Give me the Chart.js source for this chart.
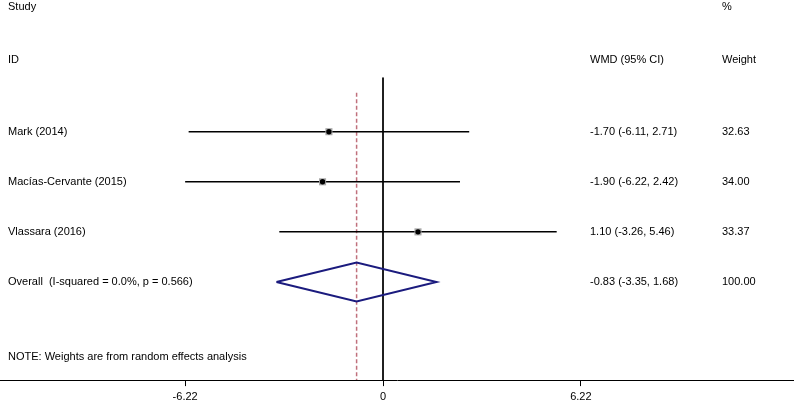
<!DOCTYPE html>
<html>
<head>
<meta charset="utf-8">
<script src="https://cdn.jsdelivr.net/npm/chart.js@4"></script>
<style>
  html, body { margin: 0; padding: 0; background: #fff; }
  #wrap { width: 794px; height: 408px; }
</style>
</head>
<body>
<div id="wrap"><canvas id="forest"></canvas></div>
<script>
// study data
const studies = ['Mark (2014)', 'Macías-Cervante (2015)', 'Vlassara (2016)'];
const wmd = [-1.70, -1.90, 1.10];
const lower = [-6.11, -6.22, -3.26];
const upper = [2.71, 2.42, 5.46];
const weights = ['32.63', '34.00', '33.37'];

// pooled estimate
const overallLabel = 'Overall  (I-squared = 0.0%, p = 0.566)';
const overall = [-0.83, -3.35, 1.68];
const overallWeight = '100.00';

const tickValues = [-6.22, 0, 6.22];
const tickLabels = ['-6.22', '0', '6.22'];

const fmt = v => v.toFixed(2);
const ciText = (e, l, u) => fmt(e) + ' (' + fmt(l) + ', ' + fmt(u) + ')';

const overallRow = studies.length + 1;
const yMin = -1.63, yMax = 5.96;

const datasets = [];

// point estimates on top (lower order draws last)
datasets.push({
    type: 'scatter',
    order: 0,
    data: wmd.map((v, i) => ({ x: v, y: i + 1 })),
    pointStyle: 'circle',
    pointRadius: 2.7,
    backgroundColor: '#000',
    borderWidth: 0
});
// weight boxes
datasets.push({
    type: 'scatter',
    order: 1,
    data: wmd.map((v, i) => ({ x: v, y: i + 1 })),
    pointStyle: 'rect',
    pointRadius: 5,
    backgroundColor: '#a8a8a8',
    borderWidth: 0
});

// confidence interval lines
studies.forEach((s, i) => {
    datasets.push({
        type: 'line',
        order: 2,
        data: [{ x: lower[i], y: i + 1 }, { x: upper[i], y: i + 1 }],
        borderColor: '#000',
        borderWidth: 1.5,
        pointRadius: 0
    });
});

// null line and overall effect line
datasets.push({
    type: 'line',
    order: 3,
    data: [{ x: 0, y: -0.08 }, { x: 0, y: yMax }],
    borderColor: '#000',
    borderWidth: 1,
    pointRadius: 0
});
datasets.push({
    type: 'line',
    order: 3,
    data: [{ x: overall[0], y: 0.22 }, { x: overall[0], y: yMax }],
    borderColor: '#c0707c',
    borderWidth: 1.5,
    borderDash: [4, 2.5],
    pointRadius: 0
});

// diamond for pooled estimate
const h = 0.39;
datasets.push({
    type: 'line',
    order: 1,
    data: [
        { x: overall[1], y: overallRow },
        { x: overall[0], y: overallRow - h },
        { x: overall[2], y: overallRow },
        { x: overall[0], y: overallRow + h },
        { x: overall[1], y: overallRow }
    ],
    borderColor: '#1b1b7e',
    borderWidth: 2,
    pointRadius: 0,
    tension: 0
});

const textPlugin = {
    id: 'forestText',
    afterDatasetsDraw(chart) {
        const ctx = chart.ctx;
        const y = chart.scales.y;
        ctx.save();
        ctx.font = '11px "Liberation Sans", Arial, sans-serif';
        ctx.fillStyle = '#000';
        ctx.textBaseline = 'middle';
        ctx.textAlign = 'left';
        ctx.fillText('Study', 8, 7);
        ctx.fillText('ID', 8, 60);
        ctx.fillText('%', 722, 7);
        ctx.fillText('WMD (95% CI)', 590, 60);
        ctx.fillText('Weight', 722, 60);
        studies.forEach((s, i) => {
            const py = y.getPixelForValue(i + 1);
            ctx.fillText(s, 8, py);
            ctx.fillText(ciText(wmd[i], lower[i], upper[i]), 590, py);
            ctx.fillText(weights[i], 722, py);
        });
        const oy = y.getPixelForValue(overallRow);
        ctx.fillText(overallLabel, 8, oy);
        ctx.fillText(ciText(overall[0], overall[1], overall[2]), 590, oy);
        ctx.fillText(overallWeight, 722, oy);
        ctx.fillText('NOTE: Weights are from random effects analysis', 8, 357);
        ctx.restore();
    }
};

new Chart(document.getElementById('forest'), {
    type: 'scatter',
    data: { datasets: datasets },
    plugins: [textPlugin],
    options: {
        responsive: true,
        maintainAspectRatio: false,
        animation: false,
        layout: { autoPadding: false, padding: 0 },
        plugins: {
            legend: { display: false },
            tooltip: { enabled: false }
        },
        scales: {
            x: {
                type: 'linear',
                min: -12.04,
                max: 12.92,
                afterBuildTicks: scale => {
                    scale.ticks = tickValues.map(v => ({ value: v }));
                },
                ticks: {
                    autoSkip: false,
                    maxRotation: 0,
                    padding: 6,
                    color: '#000',
                    font: { family: '"Liberation Sans", Arial, sans-serif', size: 11, lineHeight: 0.9 },
                    callback: (val, idx) => tickLabels[idx]
                },
                grid: { drawOnChartArea: false, drawTicks: true, tickLength: 6, color: '#000' },
                border: { display: true, color: '#000', width: 1 }
            },
            y: {
                type: 'linear',
                display: false,
                reverse: true,
                min: yMin,
                max: yMax
            }
        }
    }
});
</script>
</body>
</html>
